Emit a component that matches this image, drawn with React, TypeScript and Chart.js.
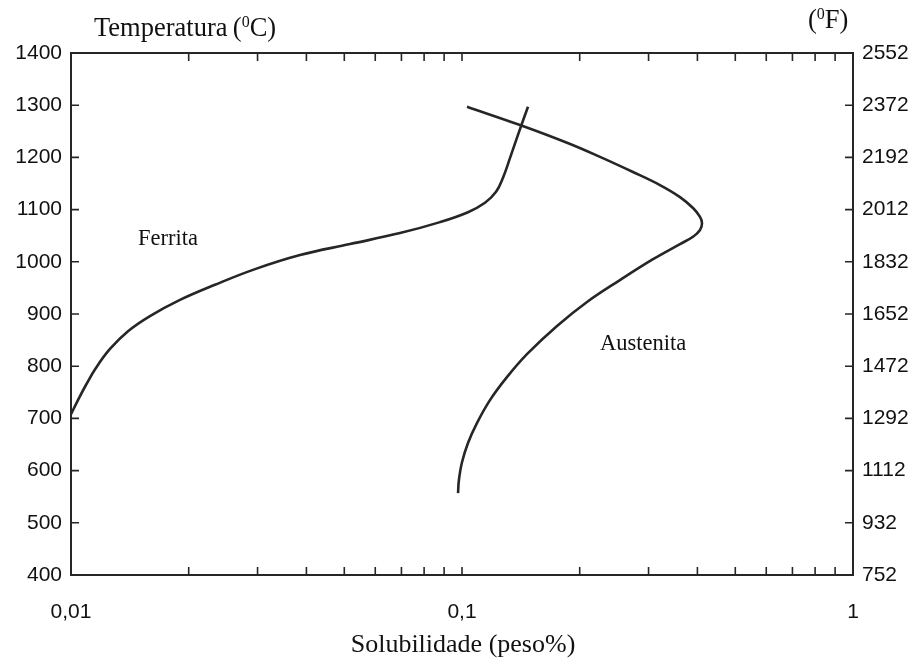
import React, { useEffect, useRef } from "react";
import { Chart, registerables } from "chart.js";

Chart.register(...registerables);

// ---- data ----
const FERRITA_X = [0.01, 0.01042, 0.01092, 0.01159, 0.01258, 0.01399, 0.01592, 0.019, 0.02335, 0.02956, 0.03853, 0.0517, 0.06941, 0.08785, 0.1036, 0.1145, 0.1222, 0.1273, 0.1327, 0.1399, 0.1475];
const FERRITA_T = [708, 735, 764, 797, 833, 867, 896, 927, 956, 986, 1013, 1034, 1055, 1076, 1095, 1113, 1134, 1161, 1199, 1249, 1297];

const AUSTENITA_X = [0.103, 0.1407, 0.1856, 0.2254, 0.2737, 0.3208, 0.361, 0.3898, 0.4062, 0.411, 0.4062, 0.3898, 0.361, 0.308, 0.2535, 0.2088, 0.175, 0.1466, 0.1303, 0.1179, 0.1092, 0.1036, 0.1, 0.0982, 0.0977];
const AUSTENITA_T = [1297, 1262, 1228, 1201, 1172, 1147, 1124, 1103, 1086, 1074, 1061, 1048, 1034, 1005, 965, 923, 877, 823, 779, 735, 691, 653, 616, 582, 557];

const X_TICKS = [0.01, 0.02, 0.03, 0.04, 0.05, 0.06, 0.07, 0.08, 0.09, 0.1, 0.2, 0.3, 0.4, 0.5, 0.6, 0.7, 0.8, 0.9, 1];
const X_TICK_LABELS: Record<string, string> = { "0.01": "0,01", "0.1": "0,1", "1": "1" };
const C_TICKS = [400, 500, 600, 700, 800, 900, 1000, 1100, 1200, 1300, 1400];
const F_TICKS = [752, 932, 1112, 1292, 1472, 1652, 1832, 2012, 2192, 2372, 2552];

const Y_TITLE = "Temperatura";
const Y_UNIT_C = "C";
const Y_UNIT_F = "F";
const X_TITLE = "Solubilidade (peso%)";
const LABEL_FERRITA = "Ferrita";
const LABEL_AUSTENITA = "Austenita";

const INK = "#262626";
const SERIF = "'Liberation Serif', 'Times New Roman', serif";
const SANS = "'Liberation Sans', Arial, sans-serif";

const framePlugin = {
  id: "frameAndText",
  afterDraw(chart: any) {
    const { ctx, chartArea: a, scales } = chart;
    ctx.save();
    ctx.strokeStyle = INK;
    ctx.lineWidth = 2;
    ctx.strokeRect(a.left, a.top, a.right - a.left, a.bottom - a.top);
    const L = 8;
    ctx.lineWidth = 1.6;
    ctx.beginPath();
    X_TICKS.forEach((v, i) => {
      if (i === 0 || i === X_TICKS.length - 1) return;
      const px = scales.x.getPixelForValue(v);
      ctx.moveTo(px, a.bottom);
      ctx.lineTo(px, a.bottom - L);
      ctx.moveTo(px, a.top);
      ctx.lineTo(px, a.top + L);
    });
    C_TICKS.forEach((v, i) => {
      if (i === 0 || i === C_TICKS.length - 1) return;
      const py = scales.y.getPixelForValue(v);
      ctx.moveTo(a.left, py);
      ctx.lineTo(a.left + L, py);
      const pf = scales.yF.getPixelForValue(F_TICKS[i]);
      ctx.moveTo(a.right, pf);
      ctx.lineTo(a.right - L, pf);
    });
    ctx.stroke();

    // titles with superscript zero
    ctx.fillStyle = "#111";
    ctx.textBaseline = "alphabetic";
    const drawUnit = (x: number, y: number, prefix: string, unit: string) => {
      ctx.font = `26.5px ${SERIF}`;
      ctx.textAlign = "left";
      let cx = x;
      ctx.fillText(prefix + "(", cx, y);
      cx += ctx.measureText(prefix + "(").width;
      ctx.font = `16px ${SERIF}`;
      ctx.fillText("0", cx, y - 9);
      cx += ctx.measureText("0").width;
      ctx.font = `26.5px ${SERIF}`;
      ctx.fillText(unit + ")", cx, y);
    };
    drawUnit(94, 36, Y_TITLE + "\u2009", Y_UNIT_C);
    drawUnit(808, 28, "", Y_UNIT_F);

    ctx.font = `26px ${SERIF}`;
    ctx.textAlign = "center";
    ctx.fillText(X_TITLE, 463, 652);

    ctx.font = `22.5px ${SERIF}`;
    ctx.textAlign = "left";
    ctx.fillText(LABEL_FERRITA, 138, 245);
    ctx.fillText(LABEL_AUSTENITA, 600, 350);
    ctx.restore();
  },
};

export default function App() {
  const ref = useRef<HTMLCanvasElement | null>(null);
  useEffect(() => {
    document.body.style.margin = "0";
    const canvas = ref.current!;
    const lineStyle = {
      borderColor: INK,
      borderWidth: 2.6,
      pointRadius: 0,
      showLine: true,
      fill: false,
      tension: 0.4,
    };
    const chart = new Chart(canvas, {
      type: "scatter",
      data: {
        datasets: [
          { label: LABEL_FERRITA, data: FERRITA_X.map((x, i) => ({ x, y: FERRITA_T[i] })), ...lineStyle },
          { label: LABEL_AUSTENITA, data: AUSTENITA_X.map((x, i) => ({ x, y: AUSTENITA_T[i] })), ...lineStyle },
        ],
      },
      options: {
        responsive: false,
        animation: false,
        devicePixelRatio: 1,
        layout: { padding: { top: 53, right: 0, left: 0, bottom: 0 } },
        plugins: { legend: { display: false }, tooltip: { enabled: false } },
        scales: {
          x: {
            type: "logarithmic",
            position: "bottom",
            min: 0.01,
            max: 1,
            grid: { display: false, drawTicks: false },
            border: { display: false },
            afterBuildTicks: (s: any) => {
              s.ticks = X_TICKS.map((v) => ({ value: v }));
            },
            afterFit: (s: any) => {
              s.height = 84;
            },
            ticks: {
              autoSkip: false,
              maxRotation: 0,
              padding: 25,
              color: "#111",
              font: { family: SANS, size: 21 },
              callback: (v: any) => X_TICK_LABELS[String(v)] ?? "",
            },
          },
          y: {
            type: "linear",
            position: "left",
            min: 400,
            max: 1400,
            grid: { display: false, drawTicks: false },
            border: { display: false },
            afterBuildTicks: (s: any) => {
              s.ticks = C_TICKS.map((v) => ({ value: v }));
            },
            afterFit: (s: any) => {
              s.width = 71;
            },
            ticks: {
              padding: 9,
              color: "#111",
              font: { family: SANS, size: 21 },
              callback: (v: any) => String(v),
            },
          },
          yF: {
            type: "linear",
            position: "right",
            min: 752,
            max: 2552,
            grid: { display: false, drawTicks: false },
            border: { display: false },
            afterBuildTicks: (s: any) => {
              s.ticks = F_TICKS.map((v) => ({ value: v }));
            },
            afterFit: (s: any) => {
              s.width = 65;
            },
            ticks: {
              padding: 9,
              color: "#111",
              font: { family: SANS, size: 21 },
              callback: (v: any) => String(v),
            },
          },
        },
      },
      plugins: [framePlugin],
    } as any);
    return () => chart.destroy();
  }, []);
  return (
    <div style={{ width: 918, height: 659, background: "#fff" }}>
      <canvas ref={ref} width={918} height={659} style={{ display: "block" }} />
    </div>
  );
}
